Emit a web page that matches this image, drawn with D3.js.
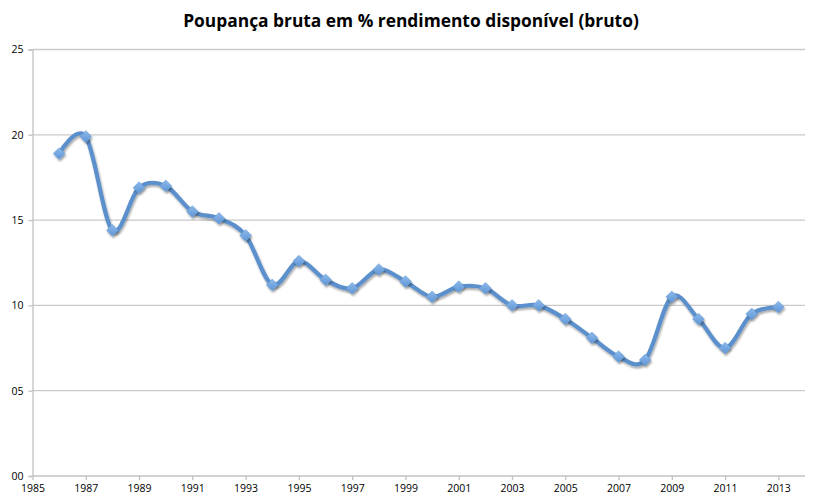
<!DOCTYPE html>
<html>
<head>
<meta charset="utf-8">
<script src="https://cdn.jsdelivr.net/npm/d3@7"></script>
<style>
  html, body { margin: 0; padding: 0; background: #fff; }
  svg { display: block; }
</style>
</head>
<body>
<svg id="chart" width="820" height="502"></svg>
<script>
const title = "Poupança bruta em % rendimento disponível (bruto)";
const years = [1986, 1987, 1988, 1989, 1990, 1991, 1992, 1993, 1994, 1995,
               1996, 1997, 1998, 1999, 2000, 2001, 2002, 2003, 2004, 2005,
               2006, 2007, 2008, 2009, 2010, 2011, 2012, 2013];
const values = [18.9, 19.9, 14.4, 16.9, 17.0, 15.5, 15.1, 14.1, 11.2, 12.6,
                11.5, 11.0, 12.1, 11.4, 10.5, 11.1, 11.0, 10.0, 10.0, 9.2,
                8.1, 7.0, 6.8, 10.5, 9.2, 7.5, 9.5, 9.9];
const xTicks = [1985, 1987, 1989, 1991, 1993, 1995, 1997, 1999, 2001, 2003, 2005, 2007, 2009, 2011, 2013];
const yTicks = [0, 5, 10, 15, 20, 25];
const yTickLabels = ["00", "05", "10", "15", "20", "25"];

const svg = d3.select("#chart");
const pLeft = 32.5, pRight = 805, pTop = 49.5, pBottom = 476;

const x = d3.scaleLinear().domain([1985, 2014]).range([pLeft, pRight]);
const y = d3.scaleLinear().domain([0, 25]).range([pBottom, pTop]);

const defs = svg.append("defs");
const f = defs.append("filter").attr("id", "shadow")
  .attr("x", "-20%").attr("y", "-20%").attr("width", "140%").attr("height", "140%");
f.append("feGaussianBlur").attr("in", "SourceAlpha").attr("stdDeviation", 1.3).attr("result", "b");
f.append("feOffset").attr("in", "b").attr("dx", 1).attr("dy", 2).attr("result", "o");
f.append("feComponentTransfer").attr("in", "o").attr("result", "oa")
  .append("feFuncA").attr("type", "linear").attr("slope", 0.35);
const fm = f.append("feMerge");
fm.append("feMergeNode").attr("in", "oa");
fm.append("feMergeNode").attr("in", "SourceGraphic");

const grad = defs.append("linearGradient").attr("id", "mk")
  .attr("x1", 0).attr("y1", 0).attr("x2", 0).attr("y2", 1);
grad.append("stop").attr("offset", "0%").attr("stop-color", "#8cb9ea");
grad.append("stop").attr("offset", "100%").attr("stop-color", "#5f96d6");

// gridlines
svg.append("g").selectAll("line").data(yTicks.filter(d => d > 0)).join("line")
  .attr("x1", pLeft).attr("x2", pRight)
  .attr("y1", d => y(d)).attr("y2", d => y(d))
  .attr("stroke", "#c9c9c9").attr("stroke-width", 1.3);

// y axis
const yAxis = d3.axisLeft(y).tickValues(yTicks).tickSize(4)
  .tickFormat((d, i) => yTickLabels[i]);
const gy = svg.append("g").attr("transform", `translate(${pLeft},0)`).call(yAxis);
gy.select(".domain").attr("stroke", "#c2c2c2").attr("stroke-width", 1.3);
gy.selectAll(".tick line").attr("stroke", "#c2c2c2").attr("stroke-width", 1.3);
gy.selectAll(".tick text").attr("font-family", "Open Sans, Lato, sans-serif")
  .attr("font-size", 10.5).attr("fill", "#000").attr("x", -9);

// x axis
const xAxis = d3.axisBottom(x).tickValues(xTicks).tickSize(4).tickFormat(d3.format("d"));
const gx = svg.append("g").attr("transform", `translate(0,${pBottom})`).call(xAxis);
gx.select(".domain").attr("stroke", "#c2c2c2").attr("stroke-width", 1.3)
  .attr("d", `M${pLeft},0H${pRight}`);
gx.selectAll(".tick line").attr("stroke", "#c2c2c2").attr("stroke-width", 1.3);
gx.selectAll(".tick text").attr("font-family", "Open Sans, Lato, sans-serif")
  .attr("font-size", 10.5).attr("fill", "#000").attr("y", 9);

// line
const pts = years.map((yr, i) => [yr, values[i]]);
const line = d3.line().x(d => x(d[0])).y(d => y(d[1])).curve(d3.curveCardinal.tension(0));
svg.append("path").datum(pts)
  .attr("d", line)
  .attr("fill", "none")
  .attr("stroke", "#5b90cc")
  .attr("stroke-width", 4.2)
  .attr("stroke-linejoin", "round")
  .attr("stroke-linecap", "round")
  .attr("filter", "url(#shadow)");

// markers
const sym = d3.symbol().type(d3.symbolDiamond2).size(88);
svg.append("g").selectAll("path").data(pts).join("path")
  .attr("transform", d => `translate(${x(d[0])},${y(d[1])})`)
  .attr("d", sym)
  .attr("fill", "url(#mk)")
  .attr("stroke", "#6d9fd8")
  .attr("stroke-width", 0.6)
  .attr("filter", "url(#shadow)");

// title
const t = svg.append("text")
  .attr("x", 411).attr("y", 27)
  .attr("text-anchor", "middle")
  .attr("font-family", "Open Sans, Lato, sans-serif")
  .attr("font-weight", "bold")
  .attr("font-size", 19)
  .attr("fill", "#000")
  .text(title);
const tw = t.node().getComputedTextLength();
t.attr("font-size", 19 * 456 / tw);
</script>
</body>
</html>
